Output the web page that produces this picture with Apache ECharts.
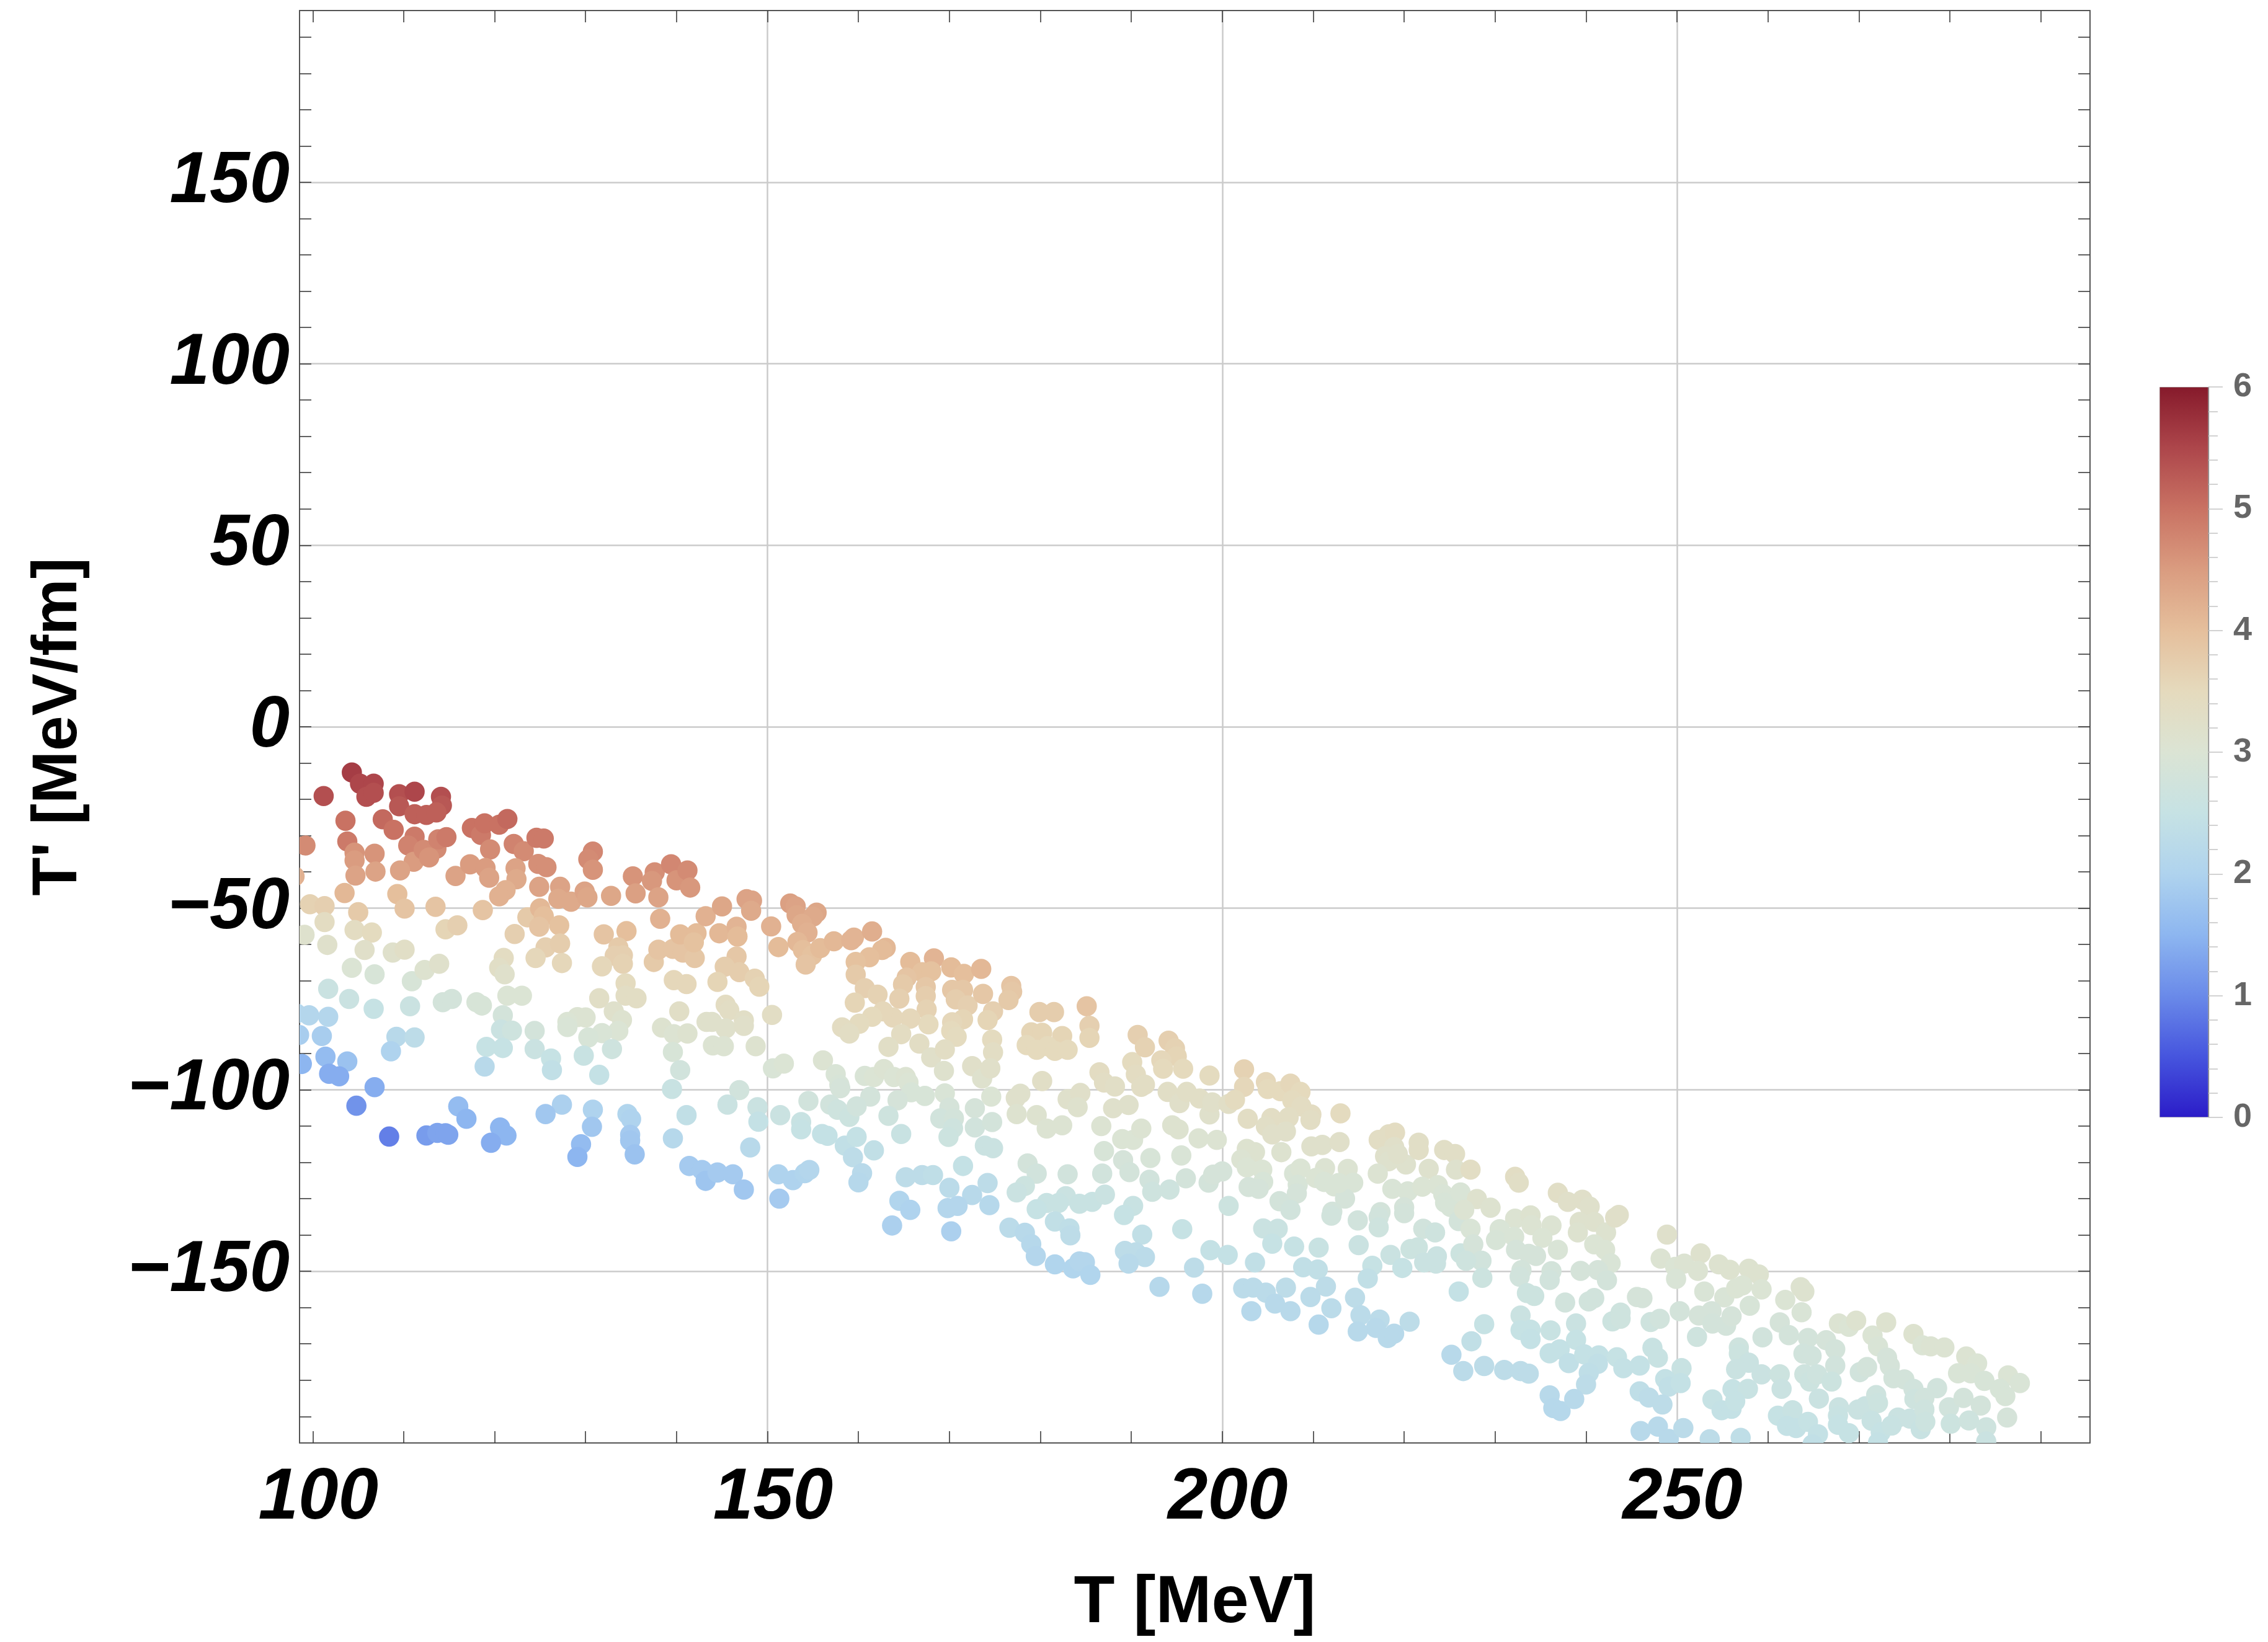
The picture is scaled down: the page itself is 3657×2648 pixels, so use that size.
<!DOCTYPE html>
<html>
<head>
<meta charset="utf-8">
<title>T' versus T</title>
<script src="https://cdn.jsdelivr.net/npm/echarts@6/dist/echarts.min.js"></script>
<style>
  html, body { margin: 0; padding: 0; background: #ffffff; }
  #chart { width: 3657px; height: 2648px; }
</style>
</head>
<body>
<div id="chart"></div>
<script>
// Each point: [T (MeV), T' (MeV/fm), colour value on the 0..6 scale]
const band100to125 = [
  [104.3,-12.6,5.6],[101.2,-19.1,5.4],[105.2,-15.7,5.5],[106.7,-15.7,5.5],[105.9,-19.3,5.4],[106.7,-18.2,5.4],
  [109.5,-18.6,5.4],[111.2,-17.9,5.5],[114.1,-19.3,5.4],[114.2,-21.7,5.3],[109.5,-21.9,5.3],[111.2,-24.1,5.2],
  [112.5,-24.3,5.2],[113.6,-23.6,5.2],[107.7,-25.5,5.1],[103.6,-25.9,5.0],[108.9,-28.4,5.0],[111.2,-30.3,4.9],
  [110.5,-32.7,4.8],[103.8,-31.6,4.9],[99.2,-32.7,4.7],[104.6,-34.7,4.6],[106.8,-35.0,4.6],[104.6,-36.8,4.5],
  [104.7,-41.0,4.4],[106.9,-39.9,4.4],[111.1,-37.2,4.5],[112.2,-33.9,4.7],[113.6,-33.6,4.7],[112.8,-36.0,4.6],
  [113.8,-31.0,4.8],[114.7,-30.4,4.9],[109.6,-39.6,4.4],[115.7,-41.1,4.4],[117.3,-37.9,4.5],[117.5,-27.9,5.0],
  [118.5,-29.8,4.9],[118.9,-26.6,5.0],[120.5,-27.0,5.0],[121.4,-25.4,5.1],[119.5,-33.8,4.7],[122.1,-32.3,4.8],
  [123.2,-34.3,4.7],[119.0,-38.9,4.5],[119.4,-41.6,4.4],[122.3,-39.0,4.4],[122.4,-42.0,4.3],[121.2,-45.0,4.2],
  [120.5,-46.7,4.2],[103.5,-45.8,4.1],[99.7,-48.9,3.65],[101.3,-49.4,3.7],[105.0,-51.1,3.8],[109.3,-46.1,4.0],
  [110.1,-50.1,3.9],[113.5,-49.6,3.9],[118.7,-50.5,3.9],[101.3,-53.8,3.4],[99.1,-57.3,3.15],[101.6,-60.1,3.2],
  [104.6,-56.0,3.4],[106.5,-56.7,3.45],[105.7,-61.5,3.25],[108.8,-62.2,3.2],[110.1,-61.4,3.3],[114.6,-55.8,3.6],
  [115.9,-54.7,3.7],[122.2,-57.1,3.7],[123.6,-52.5,3.8],[121.0,-63.7,3.4],[120.5,-66.4,3.3],[121.1,-68.2,3.2],
  [104.3,-66.4,3.0],[106.8,-68.2,2.9],[110.9,-70.1,2.9],[112.3,-67.0,3.1],[113.9,-65.3,3.2],[101.7,-72.2,2.6],
  [104.0,-75.0,2.6],[106.7,-77.7,2.5],[110.7,-77.0,2.6],[114.3,-75.9,2.8],[115.3,-75.0,2.8],[118.0,-75.9,2.9],
  [118.6,-76.8,2.9],[121.4,-74.1,3.0],[123.0,-74.1,3.0],[120.9,-79.5,2.8],[120.7,-83.4,2.6],[121.9,-83.7,2.7],
  [99.6,-79.5,2.1],[101.7,-79.9,2.1],[98.2,-79.0,2.1],[98.5,-84.9,1.9],[101.0,-85.2,1.9],[109.2,-85.4,2.2],
  [111.2,-85.6,2.3],[108.6,-89.4,2.0],[119.1,-88.2,2.5],[120.9,-88.5,2.5],[118.9,-93.6,2.2],[98.8,-92.9,1.5],
  [101.4,-90.9,1.6],[103.8,-92.2,1.7],[101.8,-95.6,1.4],[102.9,-96.3,1.4],[106.8,-99.3,1.4],[104.8,-104.4,1.1],
  [116.0,-104.6,1.6],[116.9,-108.0,1.5],[108.4,-112.9,0.9],[112.5,-112.6,1.2],[113.7,-111.9,1.3],[114.6,-112.0,1.3],
  [114.9,-112.4,1.3],[120.6,-110.4,1.5],[121.3,-112.6,1.5],[119.6,-114.6,1.4],[98.0,-41.2,4.2]
];

const band125to150 = [
  [124.6,-30.6,4.9],[125.4,-30.8,4.9],[124.8,-37.8,4.65],[125.7,-38.7,4.65],[130.8,-34.4,4.75],[130.3,-36.5,4.7],
  [130.8,-39.4,4.6],[124.9,-44.1,4.4],[127.2,-44.1,4.4],[127.0,-47.4,4.3],[128.4,-48.2,4.3],[129.9,-45.4,4.4],
  [130.2,-47.0,4.35],[132.8,-46.6,4.35],[135.2,-41.2,4.6],[135.5,-45.9,4.45],[137.6,-40.1,4.65],[137.3,-42.5,4.55],
  [138.0,-47.0,4.4],[139.4,-37.9,4.75],[140.0,-42.3,4.6],[141.2,-39.6,4.7],[141.5,-44.3,4.55],[138.2,-52.9,4.2],
  [125.0,-50.0,4.1],[125.4,-52.2,4.0],[124.9,-55.1,3.9],[127.1,-54.7,3.95],[125.6,-60.8,3.7],[127.2,-59.7,3.75],
  [124.5,-63.7,3.55],[127.4,-65.1,3.55],[132.0,-57.2,3.9],[134.5,-56.3,4.0],[133.6,-60.8,3.8],[133.2,-63.1,3.7],
  [134.1,-63.0,3.7],[134.1,-65.3,3.65],[131.8,-66.0,3.55],[134.4,-70.7,3.45],[134.4,-74.1,3.35],[135.6,-74.8,3.35],
  [131.5,-74.8,3.3],[133.1,-78.4,3.2],[134.0,-80.8,3.1],[133.6,-83.8,3.0],[131.8,-84.4,2.95],[130.3,-85.6,2.9],
  [129.1,-80.0,3.05],[130.0,-80.1,3.05],[128.0,-81.3,3.0],[128.0,-82.7,2.95],[124.4,-83.8,2.8],[124.4,-88.8,2.6],
  [126.2,-91.4,2.5],[126.3,-94.6,2.4],[129.8,-90.6,2.55],[132.9,-88.8,2.7],[131.5,-95.9,2.45],[127.4,-104.1,1.95],
  [125.6,-106.7,1.8],[130.8,-105.5,2.0],[130.7,-110.2,1.8],[129.5,-115.0,1.6],[129.1,-118.5,1.5],[134.6,-106.7,2.05],
  [135.0,-108.1,2.0],[134.9,-112.4,1.85],[134.9,-114.0,1.8],[135.4,-117.8,1.7],[137.5,-64.8,3.8],[138.0,-61.4,3.9],
  [139.6,-61.2,3.9],[140.7,-62.2,3.9],[142.0,-63.7,3.85],[140.4,-57.2,4.05],[142.2,-56.9,4.05],[141.9,-59.4,3.95],
  [143.2,-52.2,4.2],[145.0,-49.5,4.35],[147.7,-47.5,4.4],[148.3,-47.9,4.4],[148.2,-50.7,4.3],[144.7,-56.9,4.1],
  [146.6,-55.1,4.15],[146.7,-57.8,4.05],[146.6,-63.3,3.85],[145.3,-66.1,3.75],[146.9,-67.6,3.75],[144.5,-70.3,3.6],
  [148.6,-69.4,3.65],[149.1,-71.6,3.6],[139.7,-69.8,3.55],[141.1,-70.9,3.55],[140.3,-78.4,3.3],[145.4,-76.6,3.4],
  [145.8,-78.1,3.35],[143.3,-81.3,3.2],[143.9,-81.3,3.2],[145.4,-83.1,3.2],[147.4,-80.9,3.3],[147.4,-82.4,3.25],
  [138.4,-82.9,3.1],[139.7,-84.7,3.05],[141.2,-84.5,3.1],[139.6,-89.6,2.9],[140.4,-94.6,2.75],[139.5,-99.8,2.55],
  [144.0,-87.8,3.05],[145.2,-88.0,3.05],[148.7,-88.0,3.1],[146.9,-100.1,2.75],[145.6,-104.1,2.6],[141.1,-107.0,2.4],
  [139.6,-113.4,2.15],[148.9,-104.8,2.6],[149.0,-108.8,2.45],[148.1,-115.9,2.2],[141.4,-121.0,1.85],[142.8,-122.1,1.85],
  [143.2,-125.1,1.75],[144.5,-122.8,1.85],[146.2,-123.3,1.85],[147.4,-127.5,1.8]
];

const band150to175 = [
  [152.5,-48.7,4.45],[153.1,-49.5,4.4],[153.2,-51.9,4.35],[155.4,-51.2,4.35],[155.0,-52.3,4.3],[153.8,-54.3,4.25],
  [154.4,-56.7,4.2],[150.4,-55.0,4.2],[151.2,-60.7,4.05],[153.3,-59.3,4.1],[153.9,-61.5,4.0],[154.9,-63.0,3.95],
  [154.2,-65.5,3.9],[155.8,-61.0,4.05],[157.3,-59.1,4.1],[159.2,-58.8,4.15],[159.5,-58.1,4.15],[161.5,-56.4,4.25],
  [163.0,-60.9,4.1],[162.6,-61.5,4.05],[161.2,-63.5,4.0],[159.7,-64.8,3.95],[159.7,-68.3,3.8],[160.7,-72.0,3.7],
  [162.1,-73.8,3.65],[159.6,-76.0,3.6],[165.7,-64.8,4.05],[168.3,-63.8,4.15],[167.0,-67.6,3.95],[168.0,-67.4,3.95],
  [165.3,-69.1,3.9],[164.9,-71.0,3.8],[164.5,-74.9,3.7],[167.4,-71.7,3.85],[167.4,-74.2,3.75],[167.5,-77.9,3.65],
  [167.7,-82.0,3.5],[165.7,-80.4,3.55],[163.8,-80.1,3.55],[162.7,-78.4,3.55],[161.5,-79.9,3.5],[160.1,-81.8,3.45],
  [158.2,-82.8,3.4],[159.0,-84.5,3.35],[170.2,-66.3,4.05],[171.6,-68.1,4.0],[173.5,-66.7,4.1],[170.3,-72.5,3.85],
  [171.5,-72.5,3.85],[170.7,-75.1,3.75],[172.0,-76.8,3.7],[173.7,-73.6,3.85],[174.8,-78.4,3.7],[174.2,-80.8,3.6],
  [171.5,-80.6,3.6],[170.3,-81.4,3.55],[170.2,-83.8,3.5],[170.8,-85.4,3.45],[164.7,-84.7,3.4],[163.3,-88.2,3.3],
  [166.7,-87.3,3.35],[168.0,-91.1,3.25],[169.5,-88.9,3.35],[169.4,-94.8,3.15],[174.7,-86.2,3.45],[174.8,-89.7,3.35],
  [172.5,-93.5,3.25],[173.6,-96.9,3.15],[174.5,-94.1,3.25],[150.5,-79.4,3.35],[150.6,-94.1,2.95],[151.8,-92.8,3.0],
  [156.1,-91.9,3.05],[157.5,-95.7,2.95],[157.9,-98.6,2.9],[158.0,-99.6,2.85],[160.7,-96.2,2.95],[161.7,-96.5,3.0],
  [162.8,-94.3,3.05],[163.9,-96.5,3.0],[165.2,-96.5,3.05],[165.5,-98.0,3.0],[165.8,-100.7,2.9],[167.3,-101.7,2.9],
  [164.3,-102.9,2.85],[161.3,-101.9,2.8],[163.3,-107.2,2.7],[164.7,-112.2,2.55],[154.5,-103.1,2.75],[156.9,-104.1,2.75],
  [157.7,-105.5,2.7],[159.0,-107.5,2.65],[159.8,-104.6,2.75],[151.4,-107.0,2.6],[153.7,-108.9,2.55],[153.7,-110.9,2.5],
  [156.0,-112.2,2.45],[156.6,-112.7,2.45],[158.5,-115.4,2.4],[159.8,-113.0,2.45],[159.4,-118.6,2.3],[161.7,-116.7,2.4],
  [160.4,-123.0,2.2],[160.0,-125.5,2.15],[151.2,-123.3,2.0],[152.8,-124.9,2.0],[154.1,-123.0,2.05],[154.6,-122.1,2.1],
  [151.3,-130.0,1.85],[169.5,-101.0,2.95],[170.0,-104.9,2.85],[169.0,-107.9,2.75],[170.5,-107.9,2.8],[170.4,-110.6,2.7],
  [169.9,-113.0,2.65],[172.8,-105.1,2.85],[172.8,-110.4,2.75],[174.6,-101.9,3.0],[174.7,-108.9,2.8],[173.9,-115.4,2.6],
  [174.8,-116.1,2.6],[171.5,-121.0,2.45],[165.2,-124.1,2.3],[167.0,-123.5,2.3],[168.2,-123.5,2.35],[170.0,-127.0,2.25],
  [172.5,-129.0,2.2],[174.2,-125.7,2.3],[174.4,-131.8,2.15],[164.5,-130.6,2.05],[165.7,-133.1,2.0],[169.8,-132.6,2.1],
  [170.9,-132.0,2.1],[163.7,-137.4,1.95],[170.2,-139.0,1.95]
];

const band175to200 = [
  [176.8,-71.4,3.9],[176.9,-73.0,3.85],[176.5,-75.3,3.8],[179.9,-78.6,3.75],[181.5,-78.6,3.75],[185.1,-77.0,3.9],
  [185.4,-82.4,3.7],[185.4,-85.7,3.6],[179.0,-84.2,3.6],[180.2,-84.3,3.6],[182.4,-85.2,3.6],[178.5,-87.7,3.5],
  [179.6,-89.0,3.5],[180.8,-88.0,3.5],[181.6,-89.3,3.5],[183.0,-89.0,3.5],[180.2,-97.6,3.3],[177.8,-101.1,3.2],
  [177.3,-102.3,3.2],[177.4,-106.7,3.1],[179.6,-107.0,3.1],[180.7,-110.7,3.05],[182.4,-109.8,3.05],[183.0,-102.6,3.2],
  [184.4,-100.9,3.25],[184.1,-104.8,3.15],[178.6,-120.3,2.8],[179.6,-123.1,2.75],[178.3,-126.5,2.65],[177.4,-128.3,2.6],
  [180.7,-131.2,2.55],[179.6,-132.9,2.5],[182.8,-129.3,2.6],[182.0,-131.2,2.55],[184.3,-131.4,2.55],[185.7,-130.9,2.55],
  [187.1,-128.9,2.6],[183.0,-123.3,2.75],[181.6,-136.3,2.4],[183.2,-138.2,2.35],[183.3,-140.1,2.3],[176.6,-138.0,2.25],
  [178.3,-139.4,2.2],[179.0,-142.5,2.15],[179.5,-145.8,2.1],[181.6,-148.1,2.05],[183.6,-149.2,2.05],[184.3,-147.3,2.1],
  [184.9,-147.5,2.1],[185.5,-151.0,2.05],[186.7,-110.0,3.05],[187.0,-116.9,2.9],[186.8,-123.1,2.75],[189.1,-119.4,2.85],
  [189.8,-122.7,2.8],[189.0,-113.6,3.0],[190.2,-113.8,3.0],[191.1,-110.7,3.05],[192.1,-118.8,2.9],[192.0,-124.8,2.75],
  [192.3,-128.1,2.7],[194.2,-127.5,2.7],[195.5,-118.1,2.95],[196.0,-124.4,2.8],[194.5,-109.8,3.1],[195.2,-110.9,3.1],
  [197.4,-113.4,3.05],[199.4,-113.8,3.05],[198.5,-125.6,2.8],[199.0,-123.4,2.85],[200.0,-122.5,2.85],[200.7,-132.0,2.65],
  [190.2,-132.0,2.55],[189.2,-134.5,2.5],[191.2,-139.9,2.4],[195.6,-138.4,2.5],[189.3,-144.4,2.3],[190.5,-144.8,2.3],
  [191.5,-146.1,2.25],[189.7,-147.9,2.2],[198.7,-144.2,2.45],[200.6,-145.5,2.45],[196.9,-149.0,2.3],[193.1,-154.3,2.15],
  [197.8,-156.2,2.15],[186.5,-95.2,3.4],[187.0,-98.0,3.35],[188.2,-99.1,3.3],[188.0,-105.1,3.2],[189.7,-104.2,3.2],
  [190.1,-92.4,3.45],[190.5,-95.8,3.4],[191.1,-99.2,3.35],[191.5,-98.6,3.35],[190.7,-84.9,3.7],[191.5,-88.3,3.65],
  [194.1,-86.5,3.7],[194.8,-88.6,3.65],[195.0,-90.8,3.6],[193.3,-91.9,3.55],[193.5,-94.2,3.5],[195.7,-94.2,3.5],
  [194.0,-100.6,3.3],[195.3,-103.7,3.25],[196.1,-100.6,3.3],[197.5,-102.4,3.3],[198.6,-106.8,3.2],[198.9,-103.5,3.25],
  [198.6,-96.1,3.45],[200.7,-103.9,3.3]
];

const band200to225 = [
  [202.4,-94.4,3.65],[202.4,-99.2,3.55],[201.4,-102.8,3.45],[204.8,-97.9,3.55],[205.0,-99.8,3.5],[206.4,-100.4,3.5],
  [207.5,-98.3,3.55],[208.6,-100.6,3.5],[207.7,-102.9,3.45],[208.7,-104.6,3.4],[209.8,-106.8,3.4],[209.7,-108.3,3.35],
  [207.3,-107.6,3.35],[205.4,-107.8,3.35],[204.8,-110.1,3.3],[205.5,-112.3,3.25],[207.0,-111.5,3.25],[202.8,-108.0,3.35],
  [213.0,-106.5,3.45],[202.7,-116.3,3.1],[203.6,-117.2,3.1],[202.1,-119.2,3.05],[202.7,-121.4,3.0],[204.4,-122.0,3.0],
  [204.5,-125.4,2.9],[202.9,-126.8,2.85],[204.0,-127.3,2.85],[206.5,-117.2,3.1],[207.9,-123.1,2.95],[208.6,-121.7,3.0],
  [208.3,-126.2,2.9],[208.2,-128.6,2.85],[206.3,-130.7,2.8],[207.5,-133.1,2.75],[209.8,-115.6,3.2],[211.0,-115.2,3.2],
  [212.9,-114.4,3.25],[211.3,-121.6,3.05],[210.3,-124.3,3.0],[211.2,-125.4,2.95],[212.3,-126.6,2.95],[213.8,-121.8,3.05],
  [214.4,-125.6,2.95],[213.5,-130.0,2.85],[212.8,-125.7,2.95],[212.1,-133.6,2.8],[212.0,-134.7,2.75],[214.9,-136.0,2.75],
  [217.2,-113.8,3.35],[218.3,-112.3,3.35],[219.0,-111.8,3.4],[218.9,-115.8,3.25],[217.9,-118.3,3.2],[218.3,-119.7,3.15],
  [220.2,-120.6,3.15],[219.3,-117.7,3.2],[217.1,-123.1,3.05],[221.6,-114.6,3.3],[221.6,-116.6,3.3],[222.7,-121.8,3.15],
  [224.4,-116.6,3.3],[225.6,-117.7,3.3],[225.7,-122.0,3.15],[218.7,-127.3,2.95],[220.4,-128.0,2.95],[222.0,-126.7,3.0],
  [223.7,-126.3,3.0],[224.3,-128.8,2.95],[224.5,-131.1,2.9],[225.1,-132.3,2.9],[226.2,-128.3,2.95],[226.0,-136.2,2.8],
  [220.0,-132.4,2.85],[220.0,-134.0,2.8],[217.4,-133.7,2.8],[217.2,-135.1,2.75],[217.2,-137.9,2.7],[222.1,-138.3,2.75],
  [223.4,-139.3,2.7],[204.5,-138.2,2.6],[206.1,-138.3,2.6],[205.5,-142.4,2.5],[207.9,-143.2,2.5],[210.6,-143.5,2.55],
  [215.0,-142.8,2.6],[203.6,-147.6,2.4],[208.9,-148.9,2.4],[210.5,-149.5,2.4],[216.5,-148.5,2.5],[216.0,-152.0,2.4],
  [218.5,-145.5,2.6],[219.8,-149.1,2.5],[220.7,-143.9,2.65],[221.5,-143.4,2.65],[222.2,-147.6,2.6],[223.5,-147.9,2.6],
  [223.6,-145.9,2.6],[226.2,-145.1,2.65],[226.0,-155.6,2.45],[202.3,-154.7,2.25],[203.4,-154.5,2.25],[204.8,-155.9,2.25],
  [207.0,-154.5,2.3],[205.8,-158.9,2.2],[207.5,-161.0,2.2],[211.4,-154.2,2.3],[209.7,-157.1,2.25],[212.0,-160.2,2.25],
  [203.2,-161.0,2.15],[210.6,-164.7,2.15],[214.6,-157.3,2.3],[215.2,-162.1,2.25],[217.3,-163.3,2.25],[216.9,-165.6,2.2],
  [214.9,-166.6,2.2],[218.2,-168.4,2.2],[218.9,-167.2,2.2],[220.6,-163.9,2.3],[225.2,-173.0,2.2]
];

const band225to250 = [
  [227.3,-122.0,3.35],[228.0,-130.1,3.15],[226.6,-133.1,3.05],[229.5,-132.5,3.1],[227.3,-138.3,2.95],[227.6,-142.6,2.85],
  [228.5,-147.1,2.75],[226.8,-147.1,2.7],[228.6,-151.8,2.65],[232.2,-124.0,3.35],[232.6,-125.6,3.3],[232.2,-135.5,3.05],
  [233.9,-134.6,3.1],[234.0,-137.3,3.05],[236.2,-137.4,3.05],[235.2,-140.8,3.0],[230.5,-138.4,2.95],[230.1,-141.4,2.9],
  [232.1,-140.5,2.95],[232.3,-144.1,2.85],[233.7,-145.2,2.85],[234.5,-145.8,2.85],[236.9,-144.1,2.95],[232.9,-149.7,2.8],
  [232.7,-151.5,2.75],[236.2,-150.0,2.8],[236.0,-152.4,2.75],[233.5,-156.0,2.65],[234.3,-156.8,2.65],[236.9,-128.4,3.3],
  [238.0,-130.9,3.25],[239.6,-130.3,3.25],[240.4,-132.2,3.2],[239.3,-136.4,3.15],[239.1,-139.3,3.1],[240.9,-136.4,3.15],
  [242.2,-139.3,3.1],[240.9,-142.6,3.0],[242.1,-144.1,3.0],[242.7,-147.8,2.95],[241.3,-149.7,2.85],[239.4,-149.9,2.85],
  [242.3,-152.5,2.8],[243.6,-134.5,3.25],[243.2,-135.2,3.25],[248.9,-139.9,3.2],[248.2,-146.5,3.05],[249.8,-148.8,3.0],
  [250.8,-147.9,3.05],[249.9,-152.1,2.95],[228.8,-164.6,2.5],[227.4,-169.3,2.4],[226.5,-177.5,2.25],[232.8,-162.2,2.6],
  [232.8,-166.2,2.5],[233.9,-166.1,2.5],[233.9,-168.7,2.45],[236.1,-166.3,2.55],[237.7,-158.6,2.75],[238.9,-164.4,2.6],
  [238.9,-168.9,2.5],[240.3,-158.3,2.75],[240.9,-157.4,2.75],[245.6,-157.1,2.85],[246.2,-157.4,2.85],[242.9,-163.8,2.65],
  [243.8,-161.4,2.7],[243.8,-163.1,2.7],[247.1,-164.0,2.7],[248.1,-163.1,2.75],[250.3,-161.0,2.8],[228.8,-176.1,2.3],
  [231.0,-177.2,2.3],[232.8,-177.5,2.3],[233.7,-178.2,2.3],[236.0,-172.6,2.45],[237.1,-171.5,2.45],[238.1,-175.3,2.4],
  [239.8,-172.9,2.45],[241.4,-173.2,2.45],[241.3,-175.5,2.4],[240.3,-178.0,2.35],[240.0,-181.2,2.3],[243.4,-173.7,2.5],
  [244.1,-176.7,2.45],[245.9,-176.0,2.45],[247.3,-171.1,2.55],[247.9,-173.8,2.55],[250.5,-176.7,2.55],[248.7,-179.7,2.45],
  [249.1,-181.8,2.4],[250.4,-180.8,2.45],[236.0,-184.2,2.2],[236.4,-187.7,2.15],[237.2,-188.5,2.15],[238.7,-185.2,2.2],
  [245.9,-183.1,2.35],[246.9,-184.8,2.3],[248.4,-186.7,2.3],[246.0,-194.0,2.2],[247.9,-192.8,2.2],[249.1,-196.2,2.2],
  [250.7,-193.2,2.25]
];

const band250to275 = [
  [252.6,-145.1,3.15],[252.3,-149.9,3.05],[254.6,-148.1,3.1],[255.8,-149.6,3.1],[257.9,-149.3,3.1],[259.0,-150.9,3.1],
  [253.0,-155.6,2.95],[255.2,-157.2,2.95],[256.5,-154.7,3.0],[257.2,-153.9,3.0],[258.0,-159.5,2.9],[259.3,-155.0,3.0],
  [252.4,-162.2,2.85],[253.8,-161.0,2.85],[253.9,-164.4,2.8],[255.4,-165.0,2.8],[256.0,-162.4,2.85],[252.2,-168.1,2.7],
  [259.4,-168.2,2.75],[261.9,-157.9,3.0],[263.6,-154.4,3.1],[264.0,-155.6,3.1],[263.7,-161.3,2.95],[261.3,-164.1,2.85],
  [262.3,-167.6,2.8],[264.4,-168.4,2.8],[266.4,-169.0,2.85],[267.4,-171.5,2.8],[267.4,-176.0,2.75],[263.9,-172.7,2.75],
  [264.8,-173.3,2.75],[256.8,-171.0,2.7],[256.8,-172.7,2.65],[257.9,-175.2,2.6],[256.5,-177.0,2.6],[259.3,-178.4,2.6],
  [261.3,-178.4,2.65],[261.5,-182.4,2.6],[264.0,-178.4,2.7],[264.6,-180.4,2.65],[265.4,-178.4,2.7],[267.0,-180.4,2.65],
  [265.6,-185.1,2.6],[267.8,-164.4,3.05],[268.9,-165.3,3.0],[269.7,-163.6,3.1],[271.5,-167.7,3.0],[272.1,-170.7,2.95],
  [273.0,-164.1,3.1],[273.1,-173.8,2.85],[273.4,-176.1,2.85],[273.8,-179.5,2.8],[275.0,-179.8,2.8],[276.0,-182.4,2.75],
  [276.1,-185.2,2.7],[276.0,-167.3,3.1],[277.0,-170.4,3.0],[270.1,-177.8,2.75],[270.9,-176.4,2.8],[253.9,-185.3,2.5],
  [254.9,-188.3,2.45],[256.0,-187.9,2.45],[256.1,-182.5,2.5],[257.8,-182.4,2.55],[256.4,-185.8,2.5],[261.1,-189.8,2.5],
  [262.7,-188.3,2.55],[262.1,-192.6,2.45],[263.1,-193.2,2.45],[264.4,-191.5,2.5],[265.5,-194.9,2.45],[267.8,-187.5,2.6],
  [267.7,-189.8,2.55],[267.7,-192.3,2.5],[268.9,-194.6,2.5],[269.9,-188.1,2.6],[270.7,-187.2,2.6],[271.9,-184.1,2.7],
  [272.1,-186.3,2.65],[271.4,-191.2,2.55],[272.4,-194.3,2.5],[274.3,-190.3,2.6],[273.6,-192.5,2.55],[275.6,-190.6,2.6],
  [276.8,-193.5,2.55],[253.6,-196.3,2.3],[257.0,-195.9,2.35],[264.9,-197.7,2.4],[272.1,-197.2,2.45]
];

const band275to290 = [
  [277.9,-170.7,3.05],[279.4,-171.0,3.05],[281.8,-173.5,3.05],[283.0,-175.4,3.0],[280.9,-178.1,2.95],[282.3,-178.1,2.95],
  [283.8,-180.2,2.9],[286.4,-178.7,3.0],[287.7,-180.8,2.95],[285.5,-182.4,2.9],[286.1,-184.4,2.9],[278.6,-182.2,2.75],
  [277.2,-184.9,2.75],[277.2,-188.1,2.7],[277.3,-191.5,2.65],[279.9,-187.5,2.75],[281.5,-184.9,2.8],[283.4,-187.0,2.8],
  [280.1,-192.0,2.65],[282.1,-191.1,2.7],[284.0,-193.0,2.7],[286.3,-190.3,2.85],[284.0,-196.9,2.6]
];

// Axis ticks, labels and grid positions
const xLabelTicks = [100, 150, 200, 250];
const xGridLines = [150, 200, 250];
const xTickMarks = [100, 110, 120, 130, 140, 150, 160, 170, 180, 190, 200, 210, 220, 230, 240, 250, 260, 270, 280, 290];
const yLabelTicks = [-150, -100, -50, 0, 50, 100, 150];
const yGridLines = [-150, -100, -50, 0, 50, 100, 150];
const yTickMarks = [-190, -180, -170, -160, -150, -140, -130, -120, -110, -100, -90, -80, -70, -60, -50, -40, -30, -20, -10,
                    0, 10, 20, 30, 40, 50, 60, 70, 80, 90, 100, 110, 120, 130, 140, 150, 160, 170, 180, 190];
const colorScaleMin = 0;
const colorScaleMax = 6;

// Thermometer-style palette, evenly spaced from 0 (first) to 6 (last)
const thermometerPalette = [
  '#2b1cc8', '#4655de', '#6a8ae9', '#8db6f0', '#afd3ee', '#c6e2e4', '#dbe4d4',
  '#e5dabd', '#e5bf9c', '#da9c80', '#c97263', '#ad464b', '#861a2b'
];

const X_MIN = 98.55, X_MAX = 295.41;
const Y_MIN = -197.3, Y_MAX = 197.3;
const DOT_RADIUS = 16.3;
const FONT = '"Liberation Sans", Arial, Helvetica, sans-serif';

const allPoints = [].concat(band100to125, band125to150, band150to175, band175to200,
                            band200to225, band225to250, band250to275, band275to290);

const minusFormat = v => (v < 0 ? '\u2212' + Math.abs(v) : String(v));

const frameLine = { show: true, onZero: false, lineStyle: { color: '#555555', width: 2 } };
const tickStyle = { color: '#3a3a3a', width: 1.6 };
const gridLineStyle = { color: '#cbcbcb', width: 2.5 };

const tickLabelStyle = {
  fontFamily: FONT, fontSize: 116, fontWeight: 'bold', fontStyle: 'italic', color: '#000000'
};

const chart = echarts.init(document.getElementById('chart'), null, { renderer: 'canvas' });

const colorbarGradient = new echarts.graphic.LinearGradient(0, 0, 0, 1,
  thermometerPalette.slice().reverse().map((c, i, arr) => ({ offset: i / (arr.length - 1), color: c })));

chart.setOption({
  animation: false,
  backgroundColor: '#ffffff',
  grid: [
    { left: 483, top: 17, width: 2887, height: 2310, containLabel: false, outerBoundsMode: 'none' },
    { left: 3482, top: 624, width: 79, height: 1178, containLabel: false, outerBoundsMode: 'none' }
  ],
  xAxis: [
    { // bottom frame: labels and 10-unit ticks
      gridIndex: 0, type: 'value', position: 'bottom', min: X_MIN, max: X_MAX,
      axisLine: frameLine,
      axisTick: { show: true, inside: true, length: 19, customValues: xTickMarks, lineStyle: tickStyle },
      axisLabel: Object.assign({ show: true, margin: 32, padding: [0, 0, 0, 18],
        customValues: xLabelTicks, formatter: minusFormat }, tickLabelStyle),
      splitLine: { show: false },
      name: 'T [MeV]', nameLocation: 'middle', nameGap: 205,
      nameTextStyle: { fontFamily: FONT, fontSize: 108, fontWeight: 'bold', color: '#000000' }
    },
    { // top frame
      gridIndex: 0, type: 'value', position: 'top', min: X_MIN, max: X_MAX,
      axisLine: frameLine,
      axisTick: { show: true, inside: true, length: 19, customValues: xTickMarks, lineStyle: tickStyle },
      axisLabel: { show: false }, splitLine: { show: false }
    },
    { // vertical grid lines
      gridIndex: 0, type: 'value', position: 'bottom', min: X_MIN, max: X_MAX,
      axisLine: { show: false, onZero: false },
      axisTick: { show: false, customValues: xGridLines },
      axisLabel: { show: false, customValues: xGridLines },
      splitLine: { show: true, lineStyle: gridLineStyle }
    },
    { // colour bar
      gridIndex: 1, type: 'category', data: [''], show: false, boundaryGap: true
    }
  ],
  yAxis: [
    { // left frame: labels and 10-unit ticks
      gridIndex: 0, type: 'value', position: 'left', min: Y_MIN, max: Y_MAX,
      axisLine: frameLine,
      axisTick: { show: true, inside: true, length: 19, customValues: yTickMarks, lineStyle: tickStyle },
      axisLabel: Object.assign({ show: true, margin: 16, customValues: yLabelTicks, formatter: minusFormat }, tickLabelStyle),
      splitLine: { show: false },
      name: "T' [MeV/fm]", nameLocation: 'middle', nameRotate: 90, nameGap: 337,
      nameTextStyle: { fontFamily: FONT, fontSize: 102, fontWeight: 'bold', color: '#000000' }
    },
    { // right frame
      gridIndex: 0, type: 'value', position: 'right', min: Y_MIN, max: Y_MAX,
      axisLine: frameLine,
      axisTick: { show: true, inside: true, length: 19, customValues: yTickMarks, lineStyle: tickStyle },
      axisLabel: { show: false }, splitLine: { show: false }
    },
    { // horizontal grid lines
      gridIndex: 0, type: 'value', position: 'left', min: Y_MIN, max: Y_MAX,
      axisLine: { show: false, onZero: false },
      axisTick: { show: false, customValues: yGridLines },
      axisLabel: { show: false, customValues: yGridLines },
      splitLine: { show: true, lineStyle: gridLineStyle }
    },
    { // colour bar scale
      gridIndex: 1, type: 'value', position: 'right', min: colorScaleMin, max: colorScaleMax, interval: 1,
      axisLine: { show: true, onZero: false, lineStyle: { color: '#8a8a8a', width: 1.2 } },
      axisTick: { show: true, inside: false, length: 23, lineStyle: { color: '#c4c4c4', width: 1.5 } },
      minorTick: { show: true, splitNumber: 5, length: 15, lineStyle: { color: '#c4c4c4', width: 1.5 } },
      axisLabel: { show: true, margin: 40, fontFamily: FONT, fontSize: 54, fontWeight: 'bold', color: '#666666' },
      splitLine: { show: false }
    }
  ],
  visualMap: {
    type: 'continuous', show: false, seriesIndex: 0, dimension: 2,
    min: colorScaleMin, max: colorScaleMax,
    inRange: { color: thermometerPalette }
  },
  series: [
    {
      type: 'custom',
      xAxisIndex: 0, yAxisIndex: 0,
      clip: true,
      encode: { x: 0, y: 1 },
      data: allPoints,
      renderItem: function (params, api) {
        const p = api.coord([api.value(0), api.value(1)]);
        return {
          type: 'circle',
          shape: { cx: p[0], cy: p[1], r: DOT_RADIUS },
          style: { fill: api.visual('color'), stroke: null }
        };
      }
    },
    {
      type: 'bar', xAxisIndex: 3, yAxisIndex: 3, silent: true,
      barWidth: '100%',
      data: [colorScaleMax],
      itemStyle: { color: colorbarGradient, borderColor: 'rgba(90,90,90,0.35)', borderWidth: 1 }
    }
  ]
});
</script>
</body>
</html>
